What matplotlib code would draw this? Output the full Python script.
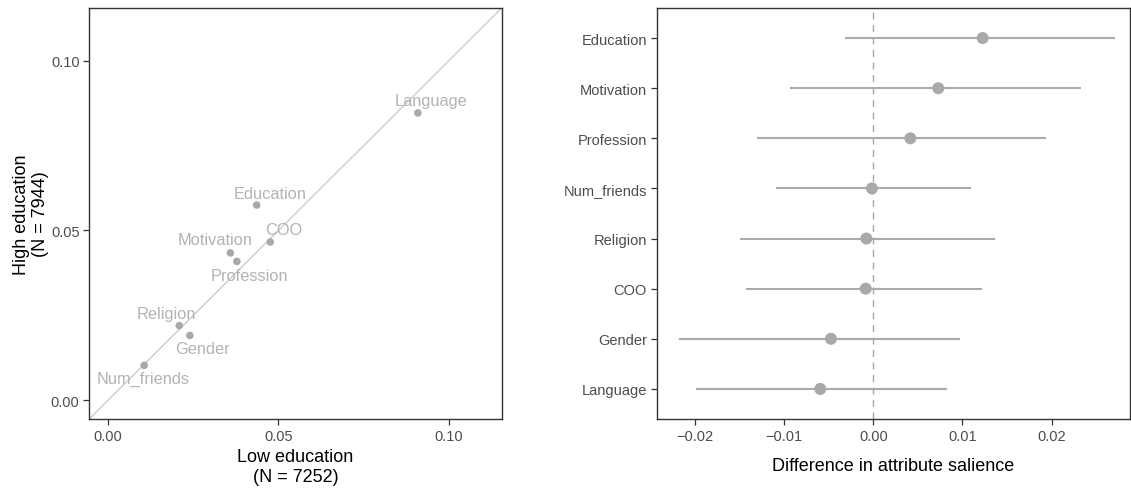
import matplotlib
matplotlib.use("Agg")
import matplotlib.pyplot as plt

plt.rcParams['font.family'] = ['Liberation Sans', 'DejaVu Sans']

# Left panel: attribute salience by group
attributes = ["Language", "Education", "COO", "Motivation", "Profession",
              "Religion", "Gender", "Num_friends"]
low_edu = [0.0909, 0.0436, 0.0476, 0.0359, 0.0378, 0.0209, 0.0240, 0.0106]
high_edu = [0.0846, 0.0575, 0.0466, 0.0434, 0.0409, 0.0220, 0.0191, 0.0103]
# label offsets (pixels) relative to each point
label_dx = [13, 13, 13, -15, 13, -13, 13, -1]
label_dy = [12, 12, 13, 13, -14, 12, -13, -13]

# Right panel: differences with CIs (top to bottom)
diff_cats = ["Education", "Motivation", "Profession", "Num_friends",
             "Religion", "COO", "Gender", "Language"]
diff_est = [0.01226, 0.00729, 0.00415, -0.00015, -0.00078, -0.00085, -0.00474, -0.00594]
diff_lo = [-0.00317, -0.00938, -0.01300, -0.01094, -0.01498, -0.01427, -0.02182, -0.01984]
diff_hi = [0.02706, 0.02325, 0.01939, 0.01099, 0.01361, 0.01222, 0.00969, 0.00826]

xticks_left = [0.00, 0.05, 0.10]
xticks_right = [-0.02, -0.01, 0.00, 0.01, 0.02]

W, H = 1131, 489
fig = plt.figure(figsize=(W / 100, H / 100), dpi=100)

frame_col = "#333333"
tick_col = "#4D4D4D"
pt_col = "#A9A9A9"
txt_col = "#B3B3B3"

def style(ax):
    for s in ax.spines.values():
        s.set_color(frame_col)
        s.set_linewidth(1.0)
    ax.tick_params(direction="out", length=4, width=0.9, color=frame_col,
                   labelcolor=tick_col, labelsize=10.5, pad=3)

ax1 = fig.add_axes([89.3 / W, (H - 420) / H, 412.4 / W, 411 / H])
style(ax1)
lim = (-0.0055, 0.1155)
ax1.set_xlim(lim)
ax1.set_ylim(lim)
ax1.plot(lim, lim, color="#CCCCCC", lw=1.0, zorder=1)
ax1.scatter(low_edu, high_edu, s=30, color=pt_col, edgecolors="none", zorder=3)
for name, x, y, dx, dy in zip(attributes, low_edu, high_edu, label_dx, label_dy):
    ax1.annotate(name, (x, y), xytext=(dx, dy), textcoords="offset pixels",
                 ha="center", va="center", fontsize=11.8, color=txt_col, zorder=4)
ax1.set_xticks(xticks_left)
ax1.set_yticks(xticks_left)
ax1.set_xticklabels([f"{t:.2f}" for t in xticks_left])
ax1.set_yticklabels([f"{t:.2f}" for t in xticks_left])
ax1.set_xlabel("Low education\n(N = 7252)", fontsize=13, color="black", labelpad=4,
               linespacing=1.2)
ax1.set_ylabel("High education\n(N = 7944)", fontsize=13, color="black", labelpad=1,
               linespacing=1.2)

ax2 = fig.add_axes([656.7 / W, (H - 420) / H, (1130 - 656.7) / W, 411 / H])
style(ax2)
n = len(diff_cats)
ypos = list(range(n, 0, -1))
ax2.set_xlim(-0.02428, 0.02878)
ax2.set_ylim(0.4, n + 0.6)
ax2.axvline(0, color="#A6A6A6", lw=1.0, ls=(0, (5, 4)), zorder=1)
ax2.hlines(ypos, diff_lo, diff_hi, color="#ABABAB", lw=1.5, zorder=2)
ax2.scatter(diff_est, ypos, s=75, color=pt_col, edgecolors="none", zorder=3)
ax2.set_yticks(ypos)
ax2.set_yticklabels(diff_cats)
ax2.set_xticks(xticks_right)
ax2.set_xticklabels([f"{t:.2f}".replace("-", "\u2212") for t in xticks_right])
ax2.set_xlabel("Difference in attribute salience", fontsize=13, color="black", labelpad=10.5)

fig.savefig("out.png", dpi=100, facecolor="white")
